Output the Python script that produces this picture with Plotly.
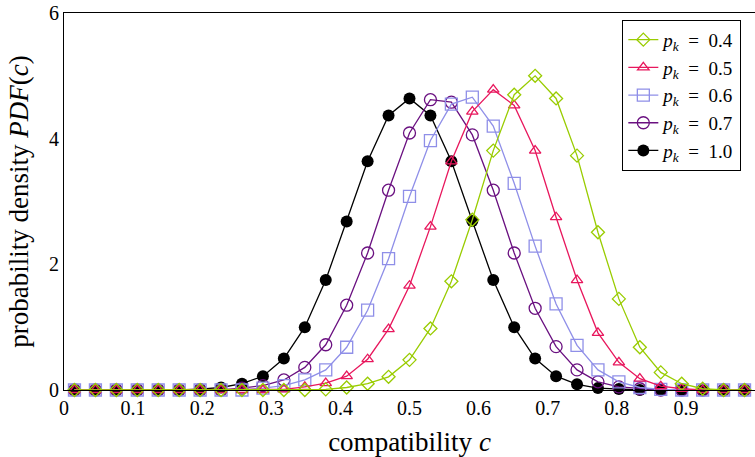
import plotly.graph_objects as go

n_points = 33
c_values = [(i + 0.5) / n_points for i in range(n_points)]

pdf_p04 = [0, 0, 0, 0, 0, 0, 0, 0, 0, 0, 0, 0, 0.01, 0.04, 0.10, 0.21, 0.48, 0.98, 1.73, 2.71,
           3.81, 4.70, 5.00, 4.64, 3.73, 2.51, 1.45, 0.68, 0.28, 0.10, 0.02, 0, 0]
pdf_p05 = [0, 0, 0, 0, 0, 0, 0, 0, 0, 0, 0.01, 0.05, 0.11, 0.22, 0.49, 0.97, 1.66, 2.60, 3.64, 4.43,
           4.78, 4.53, 3.81, 2.75, 1.75, 0.91, 0.44, 0.18, 0.06, 0.02, 0, 0, 0]
pdf_p06 = [0, 0, 0, 0, 0, 0, 0, 0, 0, 0.03, 0.07, 0.16, 0.32, 0.68, 1.27, 2.09, 3.08, 3.97, 4.55, 4.66,
           4.20, 3.29, 2.29, 1.37, 0.71, 0.32, 0.13, 0.04, 0.01, 0, 0, 0, 0]
pdf_p07 = [0, 0, 0, 0, 0, 0, 0, 0, 0.03, 0.07, 0.16, 0.36, 0.72, 1.35, 2.18, 3.18, 4.09, 4.62, 4.58, 4.06,
           3.18, 2.18, 1.30, 0.69, 0.32, 0.13, 0.05, 0.02, 0, 0, 0, 0, 0]
pdf_p10 = [0, 0, 0, 0, 0, 0, 0.015, 0.04, 0.10, 0.22, 0.50, 1.00, 1.75, 2.68, 3.64, 4.37, 4.64, 4.37, 3.64, 2.69,
           1.75, 1.00, 0.50, 0.22, 0.09, 0.03, 0.015, 0, 0, 0, 0, 0, 0]

x_ticks = [0, 0.1, 0.2, 0.3, 0.4, 0.5, 0.6, 0.7, 0.8, 0.9]
x_tick_labels = ["0", "0.1", "0.2", "0.3", "0.4", "0.5", "0.6", "0.7", "0.8", "0.9"]
y_ticks = [0, 2, 4, 6]

series = [
    ("1.0", pdf_p10, "#000000", dict(symbol="circle", size=12, color="#000000")),
    ("0.7", pdf_p07, "#6a1080", dict(symbol="circle-open", size=12, color="#6a1080", line=dict(width=1.3))),
    ("0.6", pdf_p06, "#8f8fe8", dict(symbol="square-open", size=12, color="#8f8fe8", line=dict(width=1.3))),
    ("0.5", pdf_p05, "#e8175d", dict(symbol="triangle-up-open", size=10, color="#e8175d", line=dict(width=1.3))),
    ("0.4", pdf_p04, "#99cc00", dict(symbol="diamond-open", size=10, color="#99cc00", line=dict(width=1.3))),
]

fig = go.Figure()
for label, vals, color, marker in series:
    fig.add_trace(go.Scatter(
        x=c_values, y=vals, mode="lines+markers",
        name=f"<i>p</i><sub><i>k</i></sub>&nbsp; = &nbsp;{label}",
        line=dict(color=color, width=1.3),
        marker=marker,
        cliponaxis=False,
    ))

font_family = "Liberation Serif, DejaVu Serif, serif"
fig.update_layout(
    width=755, height=457,
    margin=dict(l=64, r=0, t=13, b=67),
    plot_bgcolor="white", paper_bgcolor="white",
    font=dict(family=font_family, color="black", size=19),
    showlegend=True,
    legend=dict(
        x=0.808, y=0.982, xanchor="left", yanchor="top",
        bordercolor="black", borderwidth=1, bgcolor="white",
        font=dict(size=19, family=font_family),
        traceorder="reversed",
        tracegroupgap=0,
    ),
    xaxis=dict(
        range=[0, 1], tickvals=x_ticks, ticktext=x_tick_labels,
        showgrid=False, zeroline=False, showline=True, linecolor="black", linewidth=1.2,
        mirror=True, ticks="", tickfont=dict(size=20),
        title=dict(text="compatibility <i>c</i>", font=dict(size=27), standoff=14),
    ),
    yaxis=dict(
        range=[0, 6], tickvals=y_ticks,
        showgrid=False, zeroline=False, showline=True, linecolor="black", linewidth=1.2,
        mirror=True, ticks="", tickfont=dict(size=20),
        title=dict(text="probability density <i>PDF</i>(<i>c</i>)", font=dict(size=27), standoff=12),
    ),
)

fig.write_html("out.html")
